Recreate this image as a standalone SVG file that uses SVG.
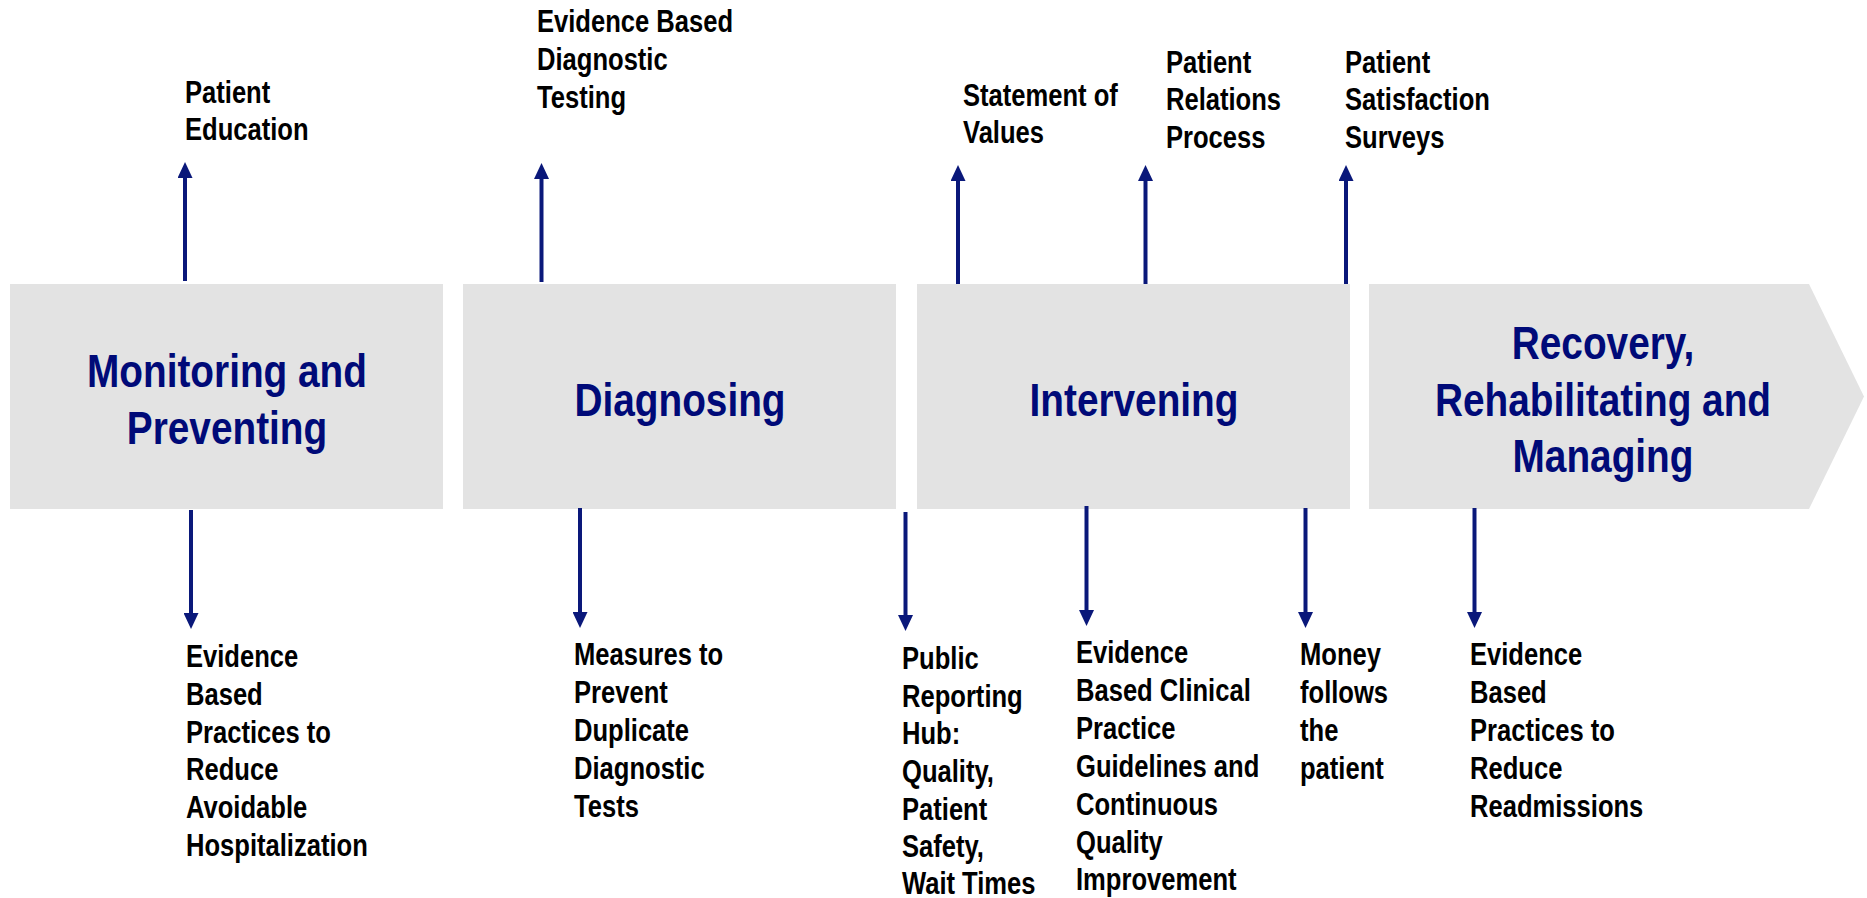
<svg xmlns="http://www.w3.org/2000/svg" width="1867" height="898" viewBox="0 0 1867 898">
  <style>
    .stage { fill: #e3e3e3; }
    .title { font-family: "Liberation Sans", Arial, sans-serif; font-weight: bold; font-size: 47px; fill: #000a78; text-anchor: middle; }
    .note { font-family: "Liberation Sans", Arial, sans-serif; font-weight: bold; font-size: 31px; fill: #000000; }
    .arrow { stroke: #0a187a; stroke-width: 4; fill: none; marker-end: url(#head); }
  </style>
  <defs>
    <marker id="head" viewBox="0 0 16 15" refX="1" refY="7.5" markerWidth="16" markerHeight="15" markerUnits="userSpaceOnUse" orient="auto">
      <path d="M0,0 L16,7.5 L0,15 z" fill="#0a187a"/>
    </marker>
  </defs>

  <rect width="1867" height="898" fill="#ffffff"/>

  <!-- process stages; text is horizontally condensed to a narrow face -->
  <g id="stage-monitoring">
    <rect class="stage" x="10" y="284" width="433" height="225"/>
    <g transform="translate(227,0) scale(0.825,1)">
      <text class="title" x="0" y="387">Monitoring and</text>
      <text class="title" x="0" y="444">Preventing</text>
    </g>
  </g>
  <g id="stage-diagnosing">
    <rect class="stage" x="463" y="284" width="433" height="225"/>
    <g transform="translate(680,0) scale(0.825,1)">
      <text class="title" x="0" y="416">Diagnosing</text>
    </g>
  </g>
  <g id="stage-intervening">
    <rect class="stage" x="917" y="284" width="433" height="225"/>
    <g transform="translate(1134,0) scale(0.825,1)">
      <text class="title" x="0" y="416">Intervening</text>
    </g>
  </g>
  <g id="stage-recovery">
    <path class="stage" d="M1369,284 L1809,284 L1864,396.5 L1809,509 L1369,509 z"/>
    <g transform="translate(1603,0) scale(0.825,1)">
      <text class="title" x="0" y="359">Recovery,</text>
      <text class="title" x="0" y="416">Rehabilitating and</text>
      <text class="title" x="0" y="472">Managing</text>
    </g>
  </g>

  <!-- connectors -->
  <g id="connectors">
    <line class="arrow" x1="185" y1="281" x2="185" y2="177"/>
    <line class="arrow" x1="541.5" y1="282" x2="541.5" y2="178"/>
    <line class="arrow" x1="958" y1="284" x2="958" y2="180"/>
    <line class="arrow" x1="1145.5" y1="284" x2="1145.5" y2="180"/>
    <line class="arrow" x1="1346" y1="284" x2="1346" y2="180"/>

    <line class="arrow" x1="191" y1="510" x2="191" y2="614"/>
    <line class="arrow" x1="580" y1="508" x2="580" y2="613"/>
    <line class="arrow" x1="905.5" y1="512" x2="905.5" y2="616"/>
    <line class="arrow" x1="1086.5" y1="506" x2="1086.5" y2="611"/>
    <line class="arrow" x1="1305.5" y1="508" x2="1305.5" y2="613"/>
    <line class="arrow" x1="1474.5" y1="508" x2="1474.5" y2="613"/>
  </g>

  <!-- labels above the stages -->
  <g id="note-patient-education" transform="translate(185,0) scale(0.825,1)">
    <text class="note" x="0" y="103">Patient</text>
    <text class="note" x="0" y="140">Education</text>
  </g>
  <g id="note-diagnostic-testing" transform="translate(537,0) scale(0.825,1)">
    <text class="note" x="0" y="32">Evidence Based</text>
    <text class="note" x="0" y="70">Diagnostic</text>
    <text class="note" x="0" y="108">Testing</text>
  </g>
  <g id="note-statement-of-values" transform="translate(963,0) scale(0.825,1)">
    <text class="note" x="0" y="106">Statement of</text>
    <text class="note" x="0" y="143">Values</text>
  </g>
  <g id="note-patient-relations" transform="translate(1166,0) scale(0.825,1)">
    <text class="note" x="0" y="73">Patient</text>
    <text class="note" x="0" y="110">Relations</text>
    <text class="note" x="0" y="148">Process</text>
  </g>
  <g id="note-satisfaction-surveys" transform="translate(1345,0) scale(0.825,1)">
    <text class="note" x="0" y="73">Patient</text>
    <text class="note" x="0" y="110">Satisfaction</text>
    <text class="note" x="0" y="148">Surveys</text>
  </g>

  <!-- labels below the stages -->
  <g id="note-avoidable-hospitalization" transform="translate(186,0) scale(0.825,1)">
    <text class="note" x="0" y="667">Evidence</text>
    <text class="note" x="0" y="705">Based</text>
    <text class="note" x="0" y="743">Practices to</text>
    <text class="note" x="0" y="780">Reduce</text>
    <text class="note" x="0" y="818">Avoidable</text>
    <text class="note" x="0" y="856">Hospitalization</text>
  </g>
  <g id="note-duplicate-tests" transform="translate(574,0) scale(0.825,1)">
    <text class="note" x="0" y="665">Measures to</text>
    <text class="note" x="0" y="703">Prevent</text>
    <text class="note" x="0" y="741">Duplicate</text>
    <text class="note" x="0" y="779">Diagnostic</text>
    <text class="note" x="0" y="817">Tests</text>
  </g>
  <g id="note-public-reporting" transform="translate(902,0) scale(0.825,1)">
    <text class="note" x="0" y="669">Public</text>
    <text class="note" x="0" y="707">Reporting</text>
    <text class="note" x="0" y="744">Hub:</text>
    <text class="note" x="0" y="782">Quality,</text>
    <text class="note" x="0" y="820">Patient</text>
    <text class="note" x="0" y="857">Safety,</text>
    <text class="note" x="0" y="894">Wait Times</text>
  </g>
  <g id="note-clinical-guidelines" transform="translate(1076,0) scale(0.825,1)">
    <text class="note" x="0" y="663">Evidence</text>
    <text class="note" x="0" y="701">Based Clinical</text>
    <text class="note" x="0" y="739">Practice</text>
    <text class="note" x="0" y="777">Guidelines and</text>
    <text class="note" x="0" y="815">Continuous</text>
    <text class="note" x="0" y="853">Quality</text>
    <text class="note" x="0" y="890">Improvement</text>
  </g>
  <g id="note-money-follows" transform="translate(1300,0) scale(0.825,1)">
    <text class="note" x="0" y="665">Money</text>
    <text class="note" x="0" y="703">follows</text>
    <text class="note" x="0" y="741">the</text>
    <text class="note" x="0" y="779">patient</text>
  </g>
  <g id="note-readmissions" transform="translate(1470,0) scale(0.825,1)">
    <text class="note" x="0" y="665">Evidence</text>
    <text class="note" x="0" y="703">Based</text>
    <text class="note" x="0" y="741">Practices to</text>
    <text class="note" x="0" y="779">Reduce</text>
    <text class="note" x="0" y="817">Readmissions</text>
  </g>
</svg>
